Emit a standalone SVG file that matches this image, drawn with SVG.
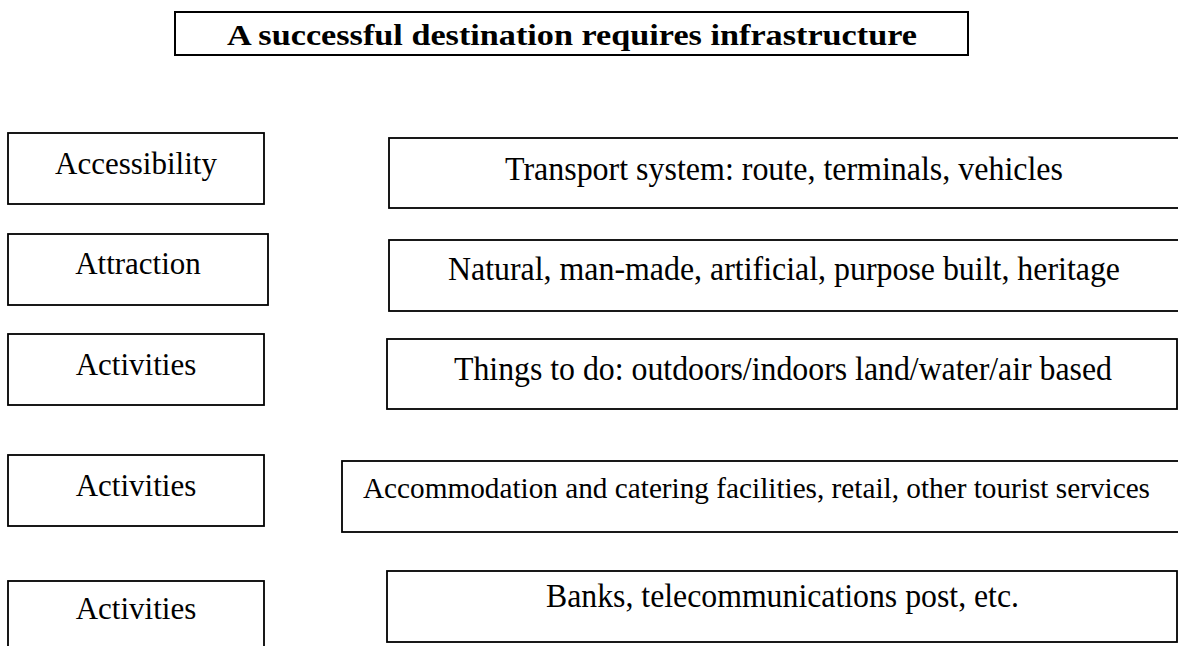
<svg xmlns="http://www.w3.org/2000/svg" width="1178" height="646" viewBox="0 0 1178 646">
<style>
.box{fill:#fff;stroke:#000;stroke-width:1.8}
.lbl{font-family:"Liberation Serif","Times New Roman",serif;font-size:31px;fill:#000;text-anchor:middle}
.desc{font-family:"Liberation Serif","Times New Roman",serif;font-size:33px;fill:#000}
.title{font-family:"Liberation Serif","Times New Roman",serif;font-weight:bold;font-size:29px;fill:#000}
</style>
<rect width="1178" height="646" fill="#fff"/>
<g id="title">
<rect class="box" x="175" y="12" width="793" height="43" style="stroke-width:2"/>
<text class="title" x="227" y="45" textLength="690" lengthAdjust="spacingAndGlyphs">A successful destination requires infrastructure</text>
</g>
<g id="accessibility">
<rect class="box" x="8" y="133" width="256" height="71"/>
<text class="lbl" x="136" y="174">Accessibility</text>
</g>
<g id="attraction">
<rect class="box" x="8" y="234" width="260" height="71"/>
<text class="lbl" x="138" y="274">Attraction</text>
</g>
<g id="activities1">
<rect class="box" x="8" y="334" width="256" height="71"/>
<text class="lbl" x="136" y="375">Activities</text>
</g>
<g id="activities2">
<rect class="box" x="8" y="455" width="256" height="71"/>
<text class="lbl" x="136" y="496">Activities</text>
</g>
<g id="activities3">
<rect class="box" x="8" y="581" width="256" height="80"/>
<text class="lbl" x="136" y="619">Activities</text>
</g>
<g id="transport">
<rect class="box" x="389" y="138" width="800" height="70"/>
<text class="desc" x="505" y="180" textLength="558" lengthAdjust="spacingAndGlyphs">Transport system: route, terminals, vehicles</text>
</g>
<g id="natural">
<rect class="box" x="389" y="240" width="800" height="71"/>
<text class="desc" x="448" y="280" textLength="672" lengthAdjust="spacingAndGlyphs">Natural, man-made, artificial, purpose built, heritage</text>
</g>
<g id="things">
<rect class="box" x="387" y="339" width="790" height="70"/>
<text class="desc" x="454" y="380" textLength="658" lengthAdjust="spacingAndGlyphs">Things to do: outdoors/indoors land/water/air based</text>
</g>
<g id="accommodation">
<rect class="box" x="342" y="461" width="850" height="71"/>
<text class="desc" x="363" y="498" style="font-size:30px" textLength="787" lengthAdjust="spacingAndGlyphs">Accommodation and catering facilities, retail, other tourist services</text>
</g>
<g id="banks">
<rect class="box" x="387" y="571" width="790" height="71"/>
<text class="desc" x="546" y="607" textLength="473" lengthAdjust="spacingAndGlyphs">Banks, telecommunications post, etc.</text>
</g>
<g id="connectors"></g>
</svg>
